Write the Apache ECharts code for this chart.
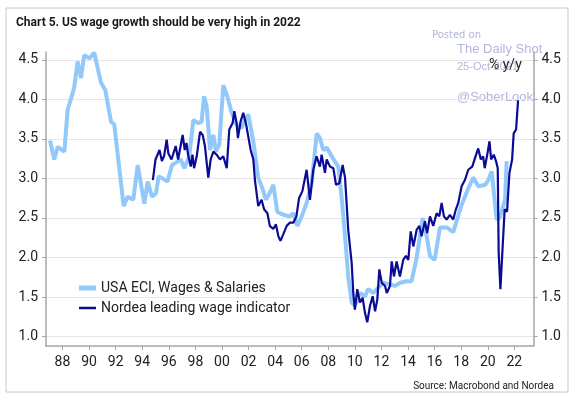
<!DOCTYPE html>
<html>
<head>
<meta charset="utf-8">
<script src="https://cdn.jsdelivr.net/npm/echarts@6/dist/echarts.min.js"></script>
<style>
  html, body { margin: 0; padding: 0; background: #fff; }
  #chart { width: 572px; height: 398px; }
</style>
</head>
<body>
<div id="chart"></div>
<script>
// USA ECI, Wages & Salaries (quarterly, % y/y)
const eciDates = [
  1987.06, 1987.38, 1987.64, 1988.14, 1988.39, 1988.77, 1988.89, 1989.14, 1989.39, 1989.64,
  1990.02, 1990.39, 1990.9, 1991.22, 1991.65, 1991.9, 1992.6, 1992.9, 1993.33, 1993.66,
  1994.16, 1994.41, 1994.73, 1995.03, 1995.24, 1995.9, 1996.24, 1996.54, 1996.9, 1997.16,
  1997.54, 1997.84, 1998.2, 1998.47, 1998.65, 1998.85, 1999.1, 1999.35, 1999.55, 1999.8,
  2000.1, 2000.4, 2000.73, 2001.1, 2001.48, 2001.73, 2001.98, 2002.36, 2002.73, 2003.07,
  2003.3, 2003.6, 2003.86, 2004.16, 2004.6, 2005.1, 2005.37, 2005.67, 2006.0, 2006.37,
  2006.75, 2007.13, 2007.37, 2007.62, 2007.88, 2008.4, 2008.75, 2009.0, 2009.26, 2009.5,
  2009.76, 2010.0, 2010.38, 2010.76, 2011.0, 2011.4, 2011.76, 2012.14, 2012.64, 2013.0,
  2013.4, 2013.9, 2014.27, 2014.65, 2015.1, 2015.4, 2015.65, 2016.0, 2016.4, 2016.9,
  2017.4, 2018.0, 2018.5, 2018.9, 2019.3, 2019.8, 2020.05, 2020.3, 2020.66, 2020.9,
  2021.3, 2021.42
];
const eciValues = [
  3.48, 3.24, 3.40, 3.34, 3.87, 4.08, 4.16, 4.48, 4.27, 4.56,
  4.52, 4.59, 4.21, 4.12, 3.72, 3.68, 2.65, 2.77, 2.73, 3.17,
  2.68, 2.96, 2.77, 2.81, 3.03, 2.96, 3.17, 3.20, 3.24, 3.13,
  3.28, 3.74, 3.70, 3.72, 4.04, 3.91, 3.36, 3.55, 3.34, 3.43,
  4.18, 4.04, 3.83, 3.68, 3.64, 3.74, 3.81, 3.47, 3.01, 2.86,
  2.73, 2.82, 2.92, 2.58, 2.54, 2.52, 2.56, 2.40, 2.52, 2.69,
  2.94, 3.57, 3.51, 3.36, 3.39, 3.24, 3.15, 2.77, 2.27, 1.76,
  1.43, 1.39, 1.55, 1.51, 1.60, 1.55, 1.62, 1.68, 1.66, 1.64,
  1.68, 1.70, 1.70, 2.00, 2.50, 2.27, 2.02, 1.97, 2.38, 2.38,
  2.32, 2.65, 2.86, 3.01, 2.90, 2.92, 2.98, 3.09, 2.48, 2.50,
  2.73, 3.22
];

// Nordea leading wage indicator (% y/y)
const nordeaDates = [
  1994.8, 1995.0, 1995.12, 1995.3, 1995.48, 1995.64, 1995.84, 1995.96, 1996.2, 1996.52,
  1996.7, 1997.04, 1997.2, 1997.33, 1997.45, 1997.65, 1997.78, 1997.9, 1998.1, 1998.35,
  1998.55, 1998.72, 1998.97, 1999.15, 1999.35, 1999.6, 1999.85, 2000.1, 2000.36, 2000.55,
  2000.8, 2000.93, 2001.1, 2001.2, 2001.4, 2001.6, 2001.8, 2001.98, 2002.16, 2002.36,
  2002.48, 2002.73, 2002.98, 2003.17, 2003.42, 2003.6, 2003.86, 2004.06, 2004.24, 2004.4,
  2004.6, 2004.87, 2005.1, 2005.37, 2005.6, 2005.8, 2006.05, 2006.37, 2006.62, 2006.87,
  2007.12, 2007.37, 2007.5, 2007.75, 2007.88, 2008.13, 2008.38, 2008.58, 2008.83, 2009.08,
  2009.26, 2009.5, 2009.76, 2009.88, 2010.0, 2010.18, 2010.38, 2010.58, 2010.76, 2010.93,
  2011.14, 2011.34, 2011.52, 2011.69, 2011.84, 2012.02, 2012.27, 2012.4, 2012.64, 2012.77,
  2012.94, 2013.14, 2013.39, 2013.64, 2013.84, 2014.02, 2014.2, 2014.4, 2014.65, 2014.85,
  2015.02, 2015.27, 2015.44, 2015.65, 2015.9, 2016.15, 2016.35, 2016.53, 2016.7, 2016.9,
  2017.15, 2017.4, 2017.6, 2017.78, 2018.03, 2018.28, 2018.53, 2018.83, 2019.08, 2019.28,
  2019.48, 2019.65, 2019.77, 2020.0, 2020.13, 2020.25, 2020.45, 2020.62, 2020.75, 2020.82,
  2020.95, 2021.12, 2021.27, 2021.45, 2021.63, 2021.83, 2021.95, 2022.13, 2022.28
];
const nordeaValues = [
  2.98, 3.24, 3.26, 3.36, 3.22, 3.28, 3.49, 3.32, 3.24, 3.41,
  3.24, 3.55, 3.36, 3.45, 3.30, 3.15, 3.30, 3.13, 3.28, 3.59,
  3.55, 3.41, 3.01, 3.24, 3.34, 3.30, 3.24, 3.28, 3.13, 3.62,
  3.70, 3.85, 3.70, 3.51, 3.72, 3.83, 3.70, 3.53, 3.36, 3.24,
  2.98, 2.65, 2.73, 2.61, 2.56, 2.40, 2.36, 2.42, 2.27, 2.21,
  2.29, 2.40, 2.44, 2.44, 2.52, 2.75, 2.84, 3.11, 2.73, 3.11,
  3.28, 3.15, 3.30, 3.07, 3.24, 3.15, 3.13, 2.92, 2.94, 3.17,
  3.01, 2.35, 1.93, 1.55, 1.34, 1.60, 1.43, 1.49, 1.30, 1.18,
  1.39, 1.51, 1.32, 1.47, 1.85, 1.68, 1.64, 1.55, 1.64, 1.95,
  1.76, 1.95, 1.76, 1.97, 2.02, 1.97, 2.33, 2.14, 2.35, 2.40,
  2.27, 2.46, 2.31, 2.52, 2.40, 2.56, 2.52, 2.69, 2.52, 2.48,
  2.54, 2.48, 2.61, 2.69, 2.90, 2.98, 3.11, 3.15, 3.28, 3.38,
  3.24, 3.28, 3.13, 3.34, 3.47, 3.24, 3.30, 3.22, 3.13, 2.06,
  1.60, 2.14, 2.61, 2.58, 3.07, 3.24, 3.57, 3.62, 3.99
];

const xTickYears = [1988, 1990, 1992, 1994, 1996, 1998, 2000, 2002, 2004, 2006,
  2008, 2010, 2012, 2014, 2016, 2018, 2020, 2022];
const yTicks = [1.0, 1.5, 2.0, 2.5, 3.0, 3.5, 4.0, 4.5];

const seriesNames = ['USA ECI, Wages & Salaries', 'Nordea leading wage indicator'];

const toPairs = (xs, ys) => xs.map((x, i) => [x, ys[i]]);

const font = 'Roboto, "Noto Sans", sans-serif';
const axisGray = '#a6a6a6';
const wmColor = '#b3b6da';
const eciColor = '#92c9fa';
const nordeaColor = '#0b0b96';

const chart = echarts.init(document.getElementById('chart'));

const yAxisBase = {
  type: 'value',
  min: 0.88,
  max: 4.6,
  axisLine: { show: true, lineStyle: { color: axisGray, width: 1.5 } },
  axisTick: { show: true, customValues: yTicks, length: 4, lineStyle: { color: axisGray } },
  axisLabel: {
    customValues: yTicks,
    color: '#222',
    fontSize: 14,
    fontFamily: font,
    margin: 8,
    formatter: (v) => v.toFixed(1),
  },
}

chart.setOption({
  animation: false,
  backgroundColor: '#fff',
  title: [
    {
      text: 'Chart 5. US wage growth should be very high in 2022',
      left: 11,
      top: 12,
      textStyle: { fontSize: 12, fontWeight: 'bold', color: '#1a1a1a', fontFamily: font },
    },
    {
      text: '% y/y',
      left: 484,
      top: 53,
      textStyle: { fontSize: 14, fontWeight: 'normal', color: '#222', fontFamily: font },
    },
    {
      text: 'Source: Macrobond and Nordea',
      right: 13,
      top: 376,
      textStyle: { fontSize: 10, fontWeight: 'normal', color: '#222', fontFamily: font },
    },
  ],
  graphic: [
    {
      type: 'rect',
      shape: { x: 6, y: 8, width: 562, height: 384 },
      style: { fill: 'none', stroke: '#c8c8c8', lineWidth: 1 },
      silent: true,
    },
    { type: 'text', left: 432, top: 30, style: { text: 'Posted on', fill: wmColor, font: '10px "DejaVu Sans", sans-serif' } },
    { type: 'text', left: 457, top: 43, style: { text: 'The Daily Shot', fill: wmColor, font: '13px "Liberation Sans", Arial, sans-serif' } },
    { type: 'text', left: 457, top: 61, style: { text: '25-Oct-2021', fill: wmColor, font: '11px "Liberation Sans", Arial, sans-serif' } },
    { type: 'text', left: 457, top: 91, style: { text: '@SoberLook', fill: wmColor, font: '13px "Liberation Sans", Arial, sans-serif' } },
  ],
  legend: {
    orient: 'vertical',
    left: 74,
    top: 276,
    itemWidth: 17,
    itemHeight: 14,
    itemGap: 6,
    textStyle: { fontSize: 14, color: '#222', fontFamily: font },
    data: [
      { name: seriesNames[0], icon: 'path://M0,0H17V5H0Z', itemStyle: { color: eciColor } },
      { name: seriesNames[1], icon: 'path://M0,0H17V2.5H0Z', itemStyle: { color: nordeaColor } },
    ],
  },
  grid: { left: 46, right: 38.5, top: 52, bottom: 52 },
  xAxis: {
    type: 'value',
    min: 1986.76,
    max: 2023.44,
    axisLine: { show: true, lineStyle: { color: axisGray, width: 1.5 } },
    axisTick: { show: true, customValues: xTickYears, length: 4, lineStyle: { color: axisGray } },
    axisLabel: {
      customValues: xTickYears,
      color: '#222',
      fontSize: 14,
      fontFamily: font,
      margin: 9,
      formatter: (v) => String(v).slice(2),
    },
    splitLine: { show: false },
  },
  yAxis: [
    Object.assign({}, yAxisBase, {
      position: 'left',
      splitLine: { show: true, lineStyle: { color: '#e6e6e6', width: 1 } },
    }),
    Object.assign({}, yAxisBase, {
      position: 'right',
      splitLine: { show: false },
    }),
  ],
  series: [
    {
      name: seriesNames[0],
      type: 'line',
      data: toPairs(eciDates, eciValues),
      symbol: 'none',
      lineStyle: { color: eciColor, width: 4 },
      itemStyle: { color: eciColor },
      z: 2,
    },
    {
      name: seriesNames[1],
      type: 'line',
      data: toPairs(nordeaDates, nordeaValues),
      symbol: 'none',
      lineStyle: { color: nordeaColor, width: 2.2 },
      itemStyle: { color: nordeaColor },
      z: 3,
    },
  ],
});
</script>
</body>
</html>
